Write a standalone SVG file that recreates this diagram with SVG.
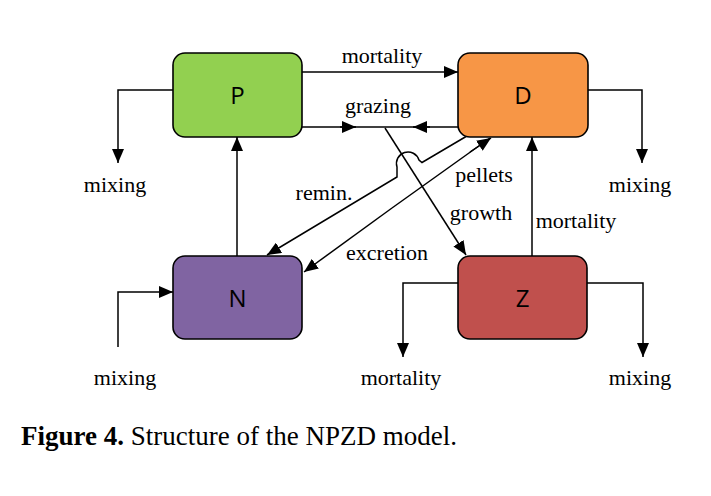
<svg xmlns="http://www.w3.org/2000/svg" width="711" height="496" viewBox="0 0 711 496">
<style>
.box{stroke:#000;stroke-width:1.6}
.nl{font-family:"Open Sans","Noto Sans","DejaVu Sans",sans-serif;font-size:24px;text-anchor:middle;fill:#000}
.lbl{font-family:"Liberation Serif","Times New Roman",serif;font-size:22px;text-anchor:middle;fill:#000}
.cap{font-family:"Liberation Serif","Times New Roman",serif;font-size:27px;fill:#000}
.ln{fill:none;stroke:#000;stroke-width:1.5}
.arr{marker-end:url(#ah)}
</style>
<defs>
<marker id="ah" viewBox="0 0 14 12" refX="14" refY="6" markerWidth="14" markerHeight="12" markerUnits="userSpaceOnUse" orient="auto">
<path d="M0,0 L14,6 L0,12 z" fill="#000"/>
</marker>
</defs>
<rect width="711" height="496" fill="#fff"/>
<g id="connectors">
<path class="ln arr" d="M302,72 L458,72"/>
<path class="ln" d="M302,127 L458,127"/>
<path class="ln arr" d="M340,127 L356,127"/>
<path class="ln arr" d="M430,127 L413,127"/>
<path class="ln arr" d="M385,128 L466,255"/>
<path class="ln arr" d="M472,133 L422,162.5 L419,160 A11,11 0 0 0 397,167 L397,177 L267,255"/>
<path class="ln arr" d="M392,208 L304,272"/>
<path class="ln" d="M392,208 L490,138"/>
<path class="ln arr" d="M470,152 L491,138"/>
<path class="ln arr" d="M237,256 L237,137"/>
<path class="ln arr" d="M532,256 L532,137"/>
<path class="ln arr" d="M588,90 L642,90 L642,163"/>
<path class="ln arr" d="M173,90 L118,90 L118,163"/>
<path class="ln arr" d="M118,347 L118,292 L173,292"/>
<path class="ln arr" d="M458,283 L403,283 L403,357"/>
<path class="ln arr" d="M587,283 L643,283 L643,357"/>
</g>
<g id="node-P"><rect class="box" x="173" y="53" width="129" height="84" rx="12" fill="#92D050"/><text class="nl" x="237.5" y="104">P</text></g>
<g id="node-D"><rect class="box" x="458" y="53" width="130" height="84" rx="12" fill="#F79646"/><text class="nl" x="523" y="104">D</text></g>
<g id="node-N"><rect class="box" x="173" y="256" width="129" height="83" rx="12" fill="#8064A2"/><text class="nl" x="237.5" y="307">N</text></g>
<g id="node-Z"><rect class="box" x="458" y="256" width="129" height="83" rx="12" fill="#C0504D"/><text class="nl" x="522.5" y="307">Z</text></g>
<g id="labels">
<text class="lbl" x="382" y="63">mortality</text>
<text class="lbl" x="378" y="113">grazing</text>
<text class="lbl" x="484" y="182">pellets</text>
<text class="lbl" x="481" y="220">growth</text>
<text class="lbl" x="324" y="200">remin.</text>
<text class="lbl" x="387" y="260">excretion</text>
<text class="lbl" x="576" y="228">mortality</text>
<text class="lbl" x="115" y="192">mixing</text>
<text class="lbl" x="640" y="192">mixing</text>
<text class="lbl" x="125" y="385">mixing</text>
<text class="lbl" x="401" y="385">mortality</text>
<text class="lbl" x="640" y="385">mixing</text>
</g>
<text class="cap" x="21" y="445"><tspan font-weight="bold">Figure 4.</tspan> Structure of the NPZD model.</text>
</svg>
